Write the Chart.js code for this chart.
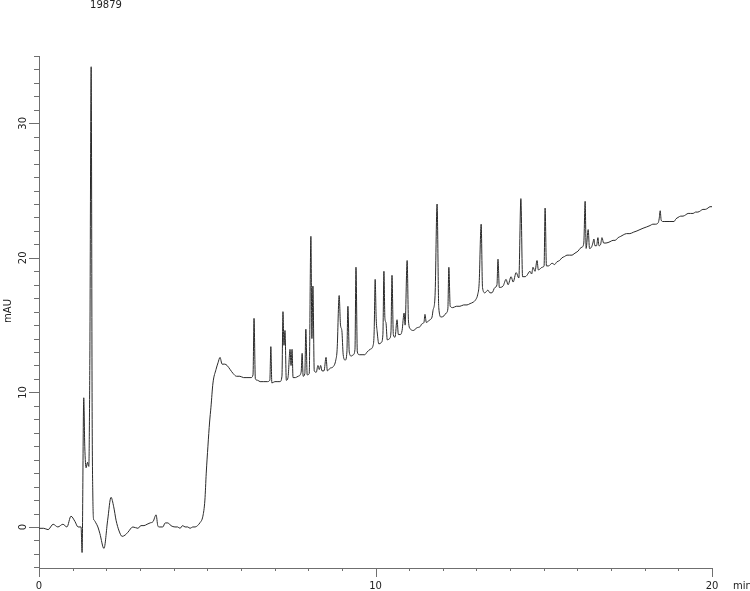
<!DOCTYPE html>
<html><head><meta charset="utf-8">
<script src="https://cdn.jsdelivr.net/npm/chart.js@4"></script>
<style>html,body{margin:0;padding:0;background:#fff;}#wrap{width:750px;height:591px;position:relative}</style>
</head><body><div id="wrap"><canvas id="c" width="750" height="591"></canvas></div>
<script>
const sampleTitle = '19879';
const xAxisUnit = 'min';
const yAxisUnit = 'mAU';
const xTickLabels = [0, 10, 20];
const yTickLabels = [0, 10, 20, 30];

// retention time (min)
const retentionTime = [
0.00,0.14,0.27,0.42,0.56,0.71,0.83,0.95,1.07,1.16,1.25,1.28,1.33,1.36,1.40,1.44,1.48,1.51,1.55,1.58,1.60,1.62,
1.64,1.69,1.75,1.81,1.93,2.04,2.14,2.22,2.29,2.38,2.47,2.56,2.64,2.79,2.94,3.03,3.12,3.21,3.30,3.39,3.48,3.53,
3.57,3.68,3.75,3.83,3.92,4.04,4.12,4.19,4.27,4.34,4.42,4.49,4.57,4.64,4.71,4.78,4.87,4.93,4.97,5.02,5.07,5.11,
5.17,5.26,5.32,5.38,5.44,5.52,5.59,5.68,5.77,5.87,5.97,6.08,6.18,6.30,6.36,6.39,6.43,6.50,6.57,6.68,6.78,6.86,
6.89,6.92,7.01,7.10,7.16,7.22,7.25,7.28,7.31,7.35,7.40,7.46,7.49,7.52,7.55,7.62,7.70,7.79,7.82,7.85,7.90,7.93,
7.97,8.03,8.08,8.11,8.14,8.18,8.24,8.29,8.33,8.37,8.41,8.47,8.53,8.57,8.65,8.74,8.82,8.86,8.92,8.96,9.00,9.04,
9.10,9.15,9.18,9.22,9.28,9.34,9.39,9.42,9.46,9.52,9.60,9.68,9.75,9.84,9.93,9.96,9.99,10.02,10.05,10.10,10.17,
10.22,10.25,10.28,10.31,10.35,10.42,10.46,10.49,10.53,10.58,10.64,10.68,10.74,10.79,10.85,10.88,10.94,10.98,
11.04,11.12,11.23,11.33,11.38,11.44,11.47,11.51,11.57,11.62,11.68,11.71,11.77,11.83,11.88,11.95,12.04,12.10,
12.15,12.18,12.22,12.30,12.40,12.51,12.62,12.72,12.81,12.90,12.98,13.04,13.08,13.14,13.18,13.25,13.34,13.40,
13.46,13.55,13.61,13.64,13.68,13.79,13.88,13.94,14.03,14.09,14.18,14.26,14.32,14.37,14.45,14.50,14.59,14.64,
14.68,14.74,14.80,14.84,14.90,14.95,15.01,15.04,15.08,15.14,15.25,15.32,15.39,15.47,15.54,15.62,15.69,15.77,
15.84,15.90,15.96,16.02,16.08,16.14,16.19,16.23,16.26,16.32,16.36,16.42,16.46,16.49,16.52,16.57,16.61,16.64,
16.69,16.73,16.78,16.85,16.97,17.06,17.12,17.21,17.29,17.36,17.46,17.56,17.66,17.77,17.86,17.95,18.06,18.16,
18.24,18.31,18.40,18.43,18.46,18.49,18.54,18.60,18.75,18.87,18.93,18.99,19.07,19.14,19.22,19.29,19.36,19.44,
19.51,19.58,19.66,19.73,19.80,19.88,19.94,20.00
];

// detector signal (mAU)
const absorbance = [
-0.1,-0.1,-0.2,0.2,0.0,0.2,0.0,0.8,0.4,0.0,0.0,-1.9,9.6,6.0,4.4,4.8,4.5,12.0,34.2,8.0,2.3,0.6,
0.5,0.3,0.0,-0.5,-1.6,0.5,2.2,1.5,0.5,-0.3,-0.7,-0.6,-0.4,0.0,-0.1,0.1,0.1,0.2,0.3,0.4,0.9,0.1,
0.0,0.0,0.3,0.3,0.1,0.0,0.0,-0.1,0.1,0.0,0.0,-0.1,0.0,0.0,0.1,0.3,0.8,2.0,4.0,6.0,7.8,8.9,
10.7,11.7,12.2,12.6,12.1,12.1,12.0,11.7,11.4,11.2,11.2,11.1,11.1,11.1,11.3,15.5,11.0,10.9,10.8,10.8,10.8,10.9,
13.4,10.7,10.8,10.8,10.8,11.2,16.0,13.5,14.6,10.9,11.1,13.2,12.0,13.2,11.1,11.1,11.2,11.5,12.9,11.2,11.4,14.7,
11.3,11.4,21.6,14.0,17.9,11.6,11.5,12.0,11.7,12.0,11.6,11.6,12.6,11.6,11.8,11.9,12.4,13.2,17.2,15.0,14.6,12.8,
12.4,13.0,16.4,13.0,12.7,12.8,13.2,19.3,13.0,12.8,12.8,12.8,13.0,13.2,13.5,14.5,18.4,15.5,14.5,13.6,13.7,
14.3,19.0,15.5,15.2,13.9,14.0,14.5,18.7,14.3,14.1,15.4,14.3,14.3,14.6,15.9,15.0,19.8,15.3,
14.7,14.6,14.8,14.9,15.1,15.2,15.8,15.2,15.3,15.4,15.6,16.1,17.2,24.0,16.3,15.6,15.7,15.9,
16.2,19.3,16.4,16.3,16.4,16.4,16.5,16.5,16.6,16.7,16.9,17.3,18.1,22.5,17.8,17.4,17.6,17.4,
17.4,17.8,18.0,19.9,17.8,17.9,18.4,18.0,18.6,18.2,18.9,18.5,24.4,18.6,18.6,18.7,19.0,18.8,
19.3,19.0,19.8,19.1,19.2,19.3,19.4,23.7,19.4,19.4,19.6,19.5,19.7,19.8,20.0,20.1,20.2,20.2,
20.2,20.3,20.4,20.5,20.7,20.8,21.1,24.2,20.7,22.1,20.7,20.8,21.1,21.4,20.9,20.9,21.5,20.9,
21.0,21.5,21.1,21.1,21.2,21.3,21.3,21.5,21.6,21.7,21.8,21.8,21.9,22.0,22.1,22.2,22.3,22.4,
22.5,22.5,22.6,22.9,23.5,22.8,22.7,22.7,22.7,22.7,22.9,23.0,23.1,23.1,23.2,23.3,23.3,23.3,
23.4,23.4,23.5,23.6,23.6,23.7,23.8,23.8
];

const points = retentionTime.map((t, i) => ({ x: t, y: absorbance[i] }));
const FONT = '10px "DejaVu Sans", Verdana, sans-serif';
const AXIS = '#6f6f6f';

const decor = {
  id: 'decor',
  afterDraw(chart) {
    const ctx = chart.ctx, xs = chart.scales.x, ys = chart.scales.y, a = chart.chartArea;
    ctx.save();
    ctx.strokeStyle = AXIS; ctx.lineWidth = 1;
    // x ticks
    for (let t = Math.ceil(xs.min); t <= xs.max; t++) {
      const px = Math.round(xs.getPixelForValue(t)) + 0.5;
      const len = (t % 10 === 0) ? 9 : 3;
      ctx.beginPath(); ctx.moveTo(px, a.bottom); ctx.lineTo(px, a.bottom + len); ctx.stroke();
    }
    // y ticks
    for (let v = Math.ceil(ys.min); v <= ys.max; v++) {
      const py = Math.round(ys.getPixelForValue(v)) + 0.5;
      const len = (v % 10 === 0) ? 10 : 5;
      ctx.beginPath(); ctx.moveTo(a.left - len, py); ctx.lineTo(a.left, py); ctx.stroke();
    }
    ctx.fillStyle = '#222'; ctx.font = FONT;
    ctx.textAlign = 'center'; ctx.textBaseline = 'middle';
    xTickLabels.forEach(v => ctx.fillText(String(v), xs.getPixelForValue(v), 586));
    yTickLabels.forEach(v => {
      ctx.save(); ctx.translate(23, ys.getPixelForValue(v)); ctx.rotate(-Math.PI / 2);
      ctx.fillText(String(v), 0, 0); ctx.restore();
    });
    ctx.textAlign = 'left';
    ctx.fillText(xAxisUnit, 733, 586);
    ctx.save(); ctx.translate(8, 311); ctx.rotate(-Math.PI / 2); ctx.textAlign = 'center';
    ctx.fillText(yAxisUnit, 0, 0); ctx.restore();
    ctx.textAlign = 'center';
    ctx.fillText(sampleTitle, 106, 5);
    ctx.restore();
  }
};

new Chart(document.getElementById('c'), {
  type: 'line',
  data: { datasets: [{ data: points, borderColor: '#2a2a2a', borderWidth: 1, pointRadius: 0,
    cubicInterpolationMode: 'monotone', fill: false }] },
  options: {
    responsive: false, devicePixelRatio: 1, animation: false,
    layout: { padding: { left: 39, top: 56, right: 38, bottom: 23 } },
    plugins: { legend: { display: false }, tooltip: { enabled: false } },
    scales: {
      x: { type: 'linear', min: 0, max: 20,
        grid: { display: false, drawTicks: false }, ticks: { display: false },
        border: { display: true, color: AXIS, width: 1 } },
      y: { type: 'linear', min: -3.05, max: 35,
        grid: { display: false, drawTicks: false }, ticks: { display: false },
        border: { display: true, color: AXIS, width: 1 } }
    }
  },
  plugins: [decor]
});
</script></body></html>
